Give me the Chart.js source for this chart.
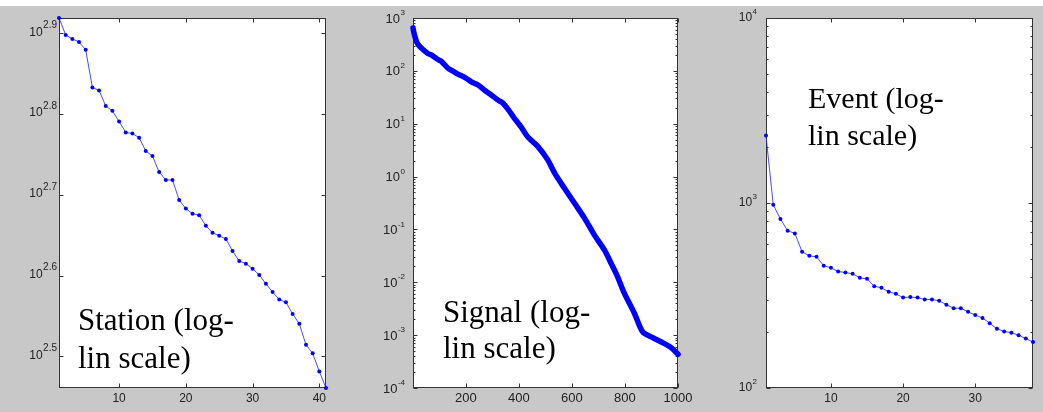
<!DOCTYPE html>
<html>
<head>
<meta charset="utf-8">
<script src="https://cdn.jsdelivr.net/npm/chart.js@4.4.1/dist/chart.umd.min.js"></script>
<style>
  html, body { margin: 0; padding: 0; background: #fff; }
  #wrap { position: relative; width: 1043px; height: 412px; overflow: hidden; }
  #bg { position: absolute; left: 0; top: 6px; width: 1043px; height: 406px; background: #c8c8c8; }
  canvas { position: absolute; top: 0; }
</style>
</head>
<body>
<div id="wrap">
  <div id="bg"></div>
  <canvas id="station" width="345" height="412" style="left:0"></canvas>
  <canvas id="signal" width="348" height="412" style="left:345px"></canvas>
  <canvas id="event" width="350" height="412" style="left:693px"></canvas>
</div>
<script>
// station panel (rank vs value)
const stationRank = [1,2,3,4,5,6,7,8,9,10,11,12,13,14,15,16,17,18,19,20,
  21,22,23,24,25,26,27,28,29,30,31,32,33,34,35,36,37,38,39,40,41];
const stationVals = [830,791,782,775,758,681,675,646,637,618,599,597,590,568,560,535,523,523,494,482,
  475,473,459,450,446,442,427,415,412,406,399,389,380,372,369,357,347,327,319,303,289];
const stationXTicks = [10, 20, 30, 40];
const stationYExps = [2.5, 2.6, 2.7, 2.8, 2.9];

// signal panel (sampled along the curve)
const signalRank = [1,4,8,15,26,40,57,70,95,108,133,150,170,196,221,246,271,296,321,340,
  360,384,409,434,472,509,535,572,610,648,685,723,748,770,798,836,867,899,949,974,1000];
const signalVals = [650,540,450,350,290,250,213,200,164,151,112,100,87,75,62,54,43,35,28,24.5,
  18.5,12.5,8.6,5.6,3.69,2.07,1.16,0.60,0.312,0.162,0.078,0.0406,0.0227,0.0135,0.00615,0.00257,0.00115,0.000925,0.000693,0.000582,0.000435];
const signalXTicks = [200, 400, 600, 800, 1000];
const signalYExps = [-4, -3, -2, -1, 0, 1, 2, 3];

// event panel
const eventRank = [1,2,3,4,5,6,7,8,9,10,11,12,13,14,15,16,17,18,19,20,
  21,22,23,24,25,26,27,28,29,30,31,32,33,34,35,36,37,38];
const eventVals = [2314,979,819,708,685,545,518,512,458,446,426,421,414,394,389,355,348,331,323,308,
  310,308,301,301,296,282,270,270,258,248,239,224,209,202,199,193,185,177];
const eventXTicks = [10, 20, 30];
const eventYExps = [2, 3, 4];

const toPoints = (xs, ys) => xs.map((x, i) => ({ x: x, y: ys[i] }));

// matlab-style box, inward ticks, 10^n labels, note text
const matlabAxes = {
  id: "matlabAxes",
  beforeDraw(chart) {
    const { ctx, chartArea: a } = chart;
    ctx.save();
    ctx.fillStyle = "#fff";
    ctx.fillRect(a.left, a.top, a.right - a.left, a.bottom - a.top);
    ctx.restore();
  },
  beforeDatasetsDraw(chart, args, o) {
    const { ctx, chartArea: a } = chart;
    const xs = chart.scales.x, ys = chart.scales.y;
    const L = Math.round(a.left) + 0.5, R = Math.round(a.right) - 0.5;
    const T = Math.round(a.top) + 0.5, B = Math.round(a.bottom) - 0.5;
    ctx.save();
    ctx.strokeStyle = "#333";
    ctx.lineWidth = 1;
    ctx.strokeRect(L, T, R - L, B - T);
    ctx.beginPath();
    o.xTicks.forEach(v => {
      const px = Math.round(xs.getPixelForValue(v)) + 0.5;
      ctx.moveTo(px, B); ctx.lineTo(px, B - 4);
      ctx.moveTo(px, T); ctx.lineTo(px, T + 4);
    });
    o.yExps.forEach(e => {
      const py = Math.round(ys.getPixelForValue(Math.pow(10, e))) + 0.5;
      ctx.moveTo(L, py); ctx.lineTo(L + 4, py);
      ctx.moveTo(R, py); ctx.lineTo(R - 4, py);
    });
    if (o.minor) {
      for (let k = -5; k < 5; k++) {
        for (let m = 2; m <= 9; m++) {
          const v = m * Math.pow(10, k);
          if (v <= ys.min || v >= ys.max) continue;
          const py = Math.round(ys.getPixelForValue(v)) + 0.5;
          ctx.moveTo(L, py); ctx.lineTo(L + 2, py);
          ctx.moveTo(R, py); ctx.lineTo(R - 2, py);
        }
      }
    }
    ctx.stroke();

    ctx.fillStyle = "#222";
    ctx.textBaseline = "middle";
    ctx.textAlign = "center";
    ctx.font = o.baseFont;
    o.xTicks.forEach(v => {
      ctx.fillText(String(v), xs.getPixelForValue(v), a.bottom + o.xLabelDy);
    });
    ctx.textAlign = "right";
    o.yExps.forEach(e => {
      const py = ys.getPixelForValue(Math.pow(10, e));
      const xr = a.left - o.labelGap;
      ctx.font = o.supFont;
      const sw = ctx.measureText(String(e)).width;
      ctx.fillText(String(e), xr, py + o.supDy);
      ctx.font = o.baseFont;
      ctx.fillText("10", xr - sw - 0.5, py + o.baseDy);
    });
    ctx.restore();
  },
  afterDraw(chart, args, o) {
    const ctx = chart.ctx;
    ctx.save();
    ctx.fillStyle = "#000";
    ctx.textAlign = "left";
    ctx.textBaseline = "alphabetic";
    ctx.font = o.noteFont;
    o.notes.forEach(n => ctx.fillText(n.text, n.x, n.y));
    ctx.restore();
  }
};

function makePanel(id, pts, xmin, xmax, ymin, ymax, pad, ds, axes) {
  return new Chart(document.getElementById(id), {
    type: "line",
    data: { datasets: [Object.assign({ data: pts, clip: 6 }, ds)] },
    options: {
      responsive: false,
      animation: false,
      devicePixelRatio: 1,
      layout: { padding: pad },
      plugins: { legend: { display: false }, tooltip: { enabled: false }, matlabAxes: axes },
      scales: {
        x: { type: "linear", min: xmin, max: xmax, display: false },
        y: { type: "logarithmic", min: ymin, max: ymax, display: false }
      }
    },
    plugins: [matlabAxes]
  });
}

const thinLine = {
  borderColor: "rgba(30,30,255,0.8)",
  borderWidth: 1,
  pointRadius: 2,
  pointBackgroundColor: "#0000ff",
  pointBorderWidth: 0,
  tension: 0
};

makePanel("station", toPoints(stationRank, stationVals), 1, 41,
  Math.min(...stationVals), Math.max(...stationVals),
  { left: 59, top: 18, right: 19, bottom: 24 }, thinLine,
  {
    xTicks: stationXTicks, yExps: stationYExps, minor: false,
    baseFont: '12px "Liberation Sans"', supFont: '10px "Liberation Sans"',
    labelGap: 2, baseDy: -1, supDy: -8, xLabelDy: 11,
    noteFont: '31px "Liberation Serif"',
    notes: [{ text: "Station (log-", x: 78, y: 330 }, { text: "lin scale)", x: 78, y: 368 }]
  });

makePanel("signal", toPoints(signalRank, signalVals), 1, 1000, 1e-4, 1e3,
  { left: 68, top: 18, right: 15, bottom: 24 },
  {
    borderColor: "#0000ff",
    borderWidth: 5.5,
    pointRadius: 0,
    borderCapStyle: "round",
    borderJoinStyle: "round",
    tension: 0.3
  },
  {
    xTicks: signalXTicks, yExps: signalYExps, minor: true,
    baseFont: '13px "Liberation Sans"', supFont: '8px "Liberation Sans"',
    labelGap: 8, baseDy: 1, supDy: -5, xLabelDy: 10,
    noteFont: '31px "Liberation Serif"',
    notes: [{ text: "Signal (log-", x: 98, y: 322 }, { text: "lin scale)", x: 98, y: 358 }]
  });

makePanel("event", toPoints(eventRank, eventVals), 1, 38, 100, 10000,
  { left: 73, top: 18, right: 10, bottom: 24 }, thinLine,
  {
    xTicks: eventXTicks, yExps: eventYExps, minor: true,
    baseFont: '12px "Liberation Sans"', supFont: '8px "Liberation Sans"',
    labelGap: 9, baseDy: 0, supDy: -6, xLabelDy: 11,
    noteFont: '30px "Liberation Serif"',
    notes: [{ text: "Event (log-", x: 115, y: 108 }, { text: "lin scale)", x: 115, y: 145 }]
  });
</script>
</body>
</html>
